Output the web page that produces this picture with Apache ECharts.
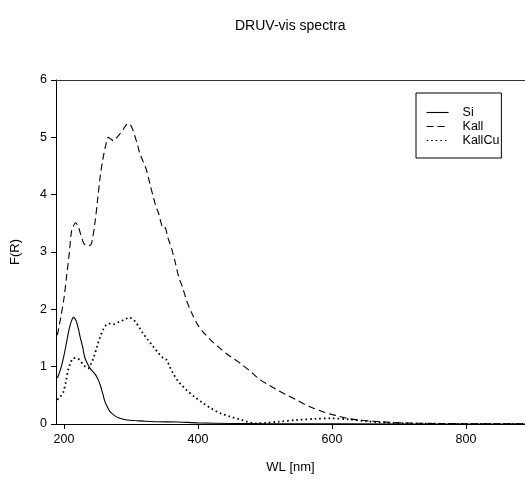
<!DOCTYPE html>
<html>
<head>
<meta charset="utf-8">
<script src="https://cdn.jsdelivr.net/npm/echarts@6/dist/echarts.min.js"></script>
<style>
  html, body { margin: 0; padding: 0; background: #fff; }
  #main { width: 525px; height: 479px; }
</style>
</head>
<body>
<div id="main"></div>
<script>
// [wavelength nm, F(R)]
const siData = [
  [190, 0.8], [192, 0.86], [196, 1.0], [200, 1.2], [204, 1.44], [207, 1.62], [210, 1.76],
  [214, 1.86], [218, 1.8], [221, 1.68], [224, 1.52], [228, 1.33], [231, 1.16], [235, 1.05],
  [239, 0.97], [244, 0.9], [248, 0.84], [251, 0.77], [254, 0.68], [258, 0.52], [261, 0.39],
  [265, 0.29], [269, 0.21], [274, 0.16], [279, 0.12], [286, 0.09], [294, 0.07], [305, 0.06],
  [320, 0.05], [340, 0.04], [370, 0.035], [400, 0.02], [450, 0.01], [500, 0.005],
  [600, 0.002], [888, 0.001]
];
const kallData = [
  [190, 1.55], [195, 1.85], [200, 2.2], [204, 2.6], [208, 3.0], [211, 3.35], [214, 3.45],
  [217, 3.51], [221, 3.45], [225, 3.3], [229, 3.16], [233, 3.11], [237, 3.11], [241, 3.15],
  [246, 3.5], [250, 3.9], [254, 4.32], [258, 4.62], [262, 4.85], [266, 5.0], [270, 4.97],
  [274, 4.94], [279, 5.0], [284, 5.07], [289, 5.15], [293, 5.22], [297, 5.24], [300, 5.2],
  [303, 5.12], [306, 5.01], [310, 4.86], [313, 4.72], [318, 4.58], [323, 4.43], [328, 4.2],
  [333, 3.97], [337, 3.8], [341, 3.68], [345, 3.5], [348, 3.42], [350, 3.43], [352, 3.4],
  [355, 3.25], [358, 3.15], [361, 3.04], [366, 2.82], [371, 2.57], [377, 2.38], [383, 2.15],
  [390, 1.95], [400, 1.72], [408, 1.6], [420, 1.45], [433, 1.32], [443, 1.22], [453, 1.14],
  [463, 1.06], [478, 0.92], [493, 0.77], [510, 0.65], [530, 0.52], [547, 0.42], [567, 0.3],
  [587, 0.21], [605, 0.15], [622, 0.1], [640, 0.07], [660, 0.05], [672, 0.04], [700, 0.02],
  [750, 0.01], [800, 0.005], [850, 0.003], [888, 0.002]
];
const kallCuData = [
  [190, 0.42], [193, 0.46], [196, 0.5], [199, 0.56], [203, 0.75], [206, 0.94], [210, 1.07],
  [214, 1.15], [218, 1.15], [223, 1.12], [229, 1.03], [233, 0.99], [236, 0.97], [240, 1.04],
  [244, 1.15], [249, 1.34], [254, 1.52], [259, 1.66], [264, 1.74], [269, 1.75], [274, 1.74],
  [280, 1.77], [286, 1.8], [292, 1.83], [297, 1.86], [301, 1.84], [306, 1.79], [312, 1.69],
  [318, 1.58], [325, 1.47], [333, 1.35], [340, 1.25], [346, 1.17], [350, 1.13], [353, 1.12],
  [357, 1.02], [363, 0.88], [370, 0.75], [377, 0.66], [383, 0.59], [395, 0.47], [408, 0.36],
  [420, 0.27], [433, 0.19], [448, 0.13], [463, 0.08], [473, 0.04], [485, 0.01], [500, 0.02],
  [520, 0.04], [547, 0.07], [575, 0.09], [597, 0.1], [625, 0.08], [650, 0.05], [672, 0.03],
  [700, 0.015], [750, 0.005], [800, 0.002], [888, 0.001]
];
const xTicks = [200, 400, 600, 800];
const seriesNames = ['Si', 'Kall', 'KallCu'];

const font = 'Liberation Sans, Arial, sans-serif';
const chart = echarts.init(document.getElementById('main'));

const option = {
  backgroundColor: '#fff',
  animation: false,
  title: {
    text: 'DRUV-vis spectra',
    left: 230,
    top: 14,
    textStyle: { fontFamily: font, fontSize: 14, fontWeight: 'normal', color: '#000' }
  },
  legend: {
    data: seriesNames,
    orient: 'vertical',
    left: 416,
    top: 93,
    width: 88,
    padding: [13, 2, 11, 10],
    itemGap: 1,
    itemWidth: 22,
    itemHeight: 14,
    borderColor: '#000',
    borderWidth: 1,
    itemStyle: { opacity: 0 },
    lineStyle: { width: 1.1 },
    textStyle: { fontFamily: font, fontSize: 12.5, color: '#000', padding: [0, 0, 0, 9] }
  },
  grid: {
    left: 56,
    right: 0,
    top: 80,
    bottom: 55,
    containLabel: false,
    outerBoundsMode: 'none'
  },
  xAxis: [
    {
      type: 'value',
      min: 188,
      max: 888,
      name: 'WL [nm]',
      nameLocation: 'middle',
      nameGap: 37,
      nameTextStyle: { fontFamily: font, fontSize: 13, color: '#000' },
      splitLine: { show: false },
      axisLine: { lineStyle: { color: '#000', width: 1 } },
      axisTick: { customValues: xTicks, length: 5, lineStyle: { color: '#000' } },
      axisLabel: { customValues: xTicks, fontFamily: font, fontSize: 12.5, color: '#000', margin: 9 }
    },
    {
      type: 'value',
      position: 'top',
      min: 188,
      max: 888,
      splitLine: { show: false },
      axisLine: { lineStyle: { color: '#333', width: 1 } },
      axisTick: { show: false },
      axisLabel: { show: false }
    }
  ],
  yAxis: {
    type: 'value',
    min: 0,
    max: 6,
    interval: 1,
    name: 'F(R)',
    nameLocation: 'middle',
    nameGap: 34,
    nameTextStyle: { fontFamily: font, fontSize: 13, color: '#000' },
    splitLine: { show: false },
    axisLine: { show: true, lineStyle: { color: '#000', width: 1 } },
    axisTick: { show: true, length: 5, lineStyle: { color: '#000' } },
    axisLabel: { fontFamily: font, fontSize: 12.5, color: '#000', margin: 9 }
  },
  series: [
    {
      name: 'Si',
      type: 'line',
      data: siData,
      symbol: 'none',
      smooth: 0.3,
      lineStyle: { color: '#000', width: 1.1, type: 'solid' },
      itemStyle: { color: '#000' }
    },
    {
      name: 'Kall',
      type: 'line',
      data: kallData,
      symbol: 'none',
      smooth: 0.3,
      lineStyle: { color: '#000', width: 1.1, type: [7, 4] },
      itemStyle: { color: '#000' }
    },
    {
      name: 'KallCu',
      type: 'line',
      data: kallCuData,
      symbol: 'none',
      smooth: 0.3,
      lineStyle: { color: '#000', width: 1.8, type: [1.6, 3] },
      itemStyle: { color: '#000' }
    }
  ]
};

chart.setOption(option);
</script>
</body>
</html>
